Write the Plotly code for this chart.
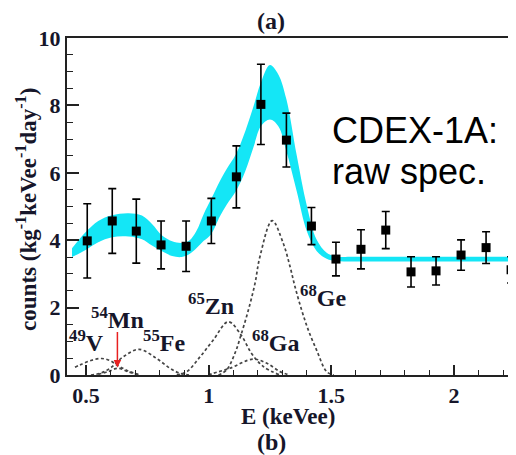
import plotly.graph_objects as go

# ---- measured spectrum (points with error bars)
energy = [0.505, 0.607, 0.705, 0.806, 0.908, 1.011, 1.113, 1.213, 1.317, 1.419, 1.519, 1.621, 1.722, 1.825, 1.927, 2.029, 2.131, 2.233]
counts = [3.98, 4.57, 4.27, 3.86, 3.82, 4.57, 5.88, 8.03, 6.97, 4.42, 3.44, 3.73, 4.30, 3.06, 3.09, 3.56, 3.78, 3.12]
errors = [1.10, 0.96, 0.95, 0.71, 0.75, 0.67, 0.92, 1.19, 0.80, 0.55, 0.50, 0.58, 0.55, 0.45, 0.42, 0.45, 0.47, 0.39]

# ---- fit band (upper / lower edges)
band_x = [0.443, 0.50, 0.55, 0.606, 0.674, 0.728, 0.769, 0.81, 0.851, 0.89, 0.92, 0.95, 0.98, 1.01, 1.046, 1.074, 1.111, 1.15, 1.182, 1.213, 1.25, 1.284, 1.317, 1.359, 1.40, 1.44, 1.481, 1.52, 1.60, 2.26]
band_hi = [3.76, 4.25, 4.57, 4.74, 4.80, 4.73, 4.48, 4.14, 3.97, 3.92, 3.98, 4.27, 4.78, 5.22, 5.76, 6.12, 6.55, 7.25, 7.95, 8.68, 9.20, 8.92, 8.18, 6.52, 5.03, 4.02, 3.63, 3.52, 3.51, 3.51]
band_lo = [3.50, 3.72, 3.94, 4.09, 4.11, 4.03, 3.84, 3.67, 3.53, 3.50, 3.58, 3.76, 3.98, 4.18, 4.71, 5.06, 5.45, 6.06, 6.74, 7.38, 7.58, 7.38, 6.64, 5.45, 4.27, 3.68, 3.45, 3.38, 3.37, 3.37]

# ---- individual components (dashed)
v_x = [0.455, 0.476, 0.52, 0.564, 0.60, 0.625, 0.655, 0.679, 0.72]
v_y = [0.23, 0.30, 0.43, 0.49, 0.42, 0.30, 0.18, 0.10, 0.0]
mn_x = [0.55, 0.59, 0.63, 0.67, 0.71]
mn_y = [0.02, 0.10, 0.20, 0.10, 0.02]
fe_x = [0.52, 0.557, 0.598, 0.652, 0.716, 0.788, 0.842, 0.883, 0.92]
fe_y = [0.0, 0.05, 0.20, 0.54, 0.76, 0.49, 0.20, 0.05, 0.0]
zn_x = [0.87, 0.911, 0.965, 1.019, 1.08, 1.132, 1.175, 1.223, 1.29]
zn_y = [0.0, 0.10, 0.54, 1.04, 1.58, 1.19, 0.64, 0.25, 0.0]
ga_x = [1.0, 1.019, 1.087, 1.18, 1.237, 1.291, 1.33]
ga_y = [0.0, 0.05, 0.20, 0.47, 0.35, 0.10, 0.0]
ge_x = [1.04, 1.073, 1.107, 1.132, 1.162, 1.189, 1.209, 1.259, 1.304, 1.332, 1.352, 1.379, 1.406, 1.44, 1.481, 1.51]
ge_y = [0.0, 0.15, 0.64, 1.19, 1.93, 2.72, 3.51, 4.58, 3.91, 3.21, 2.62, 1.93, 1.34, 0.74, 0.10, 0.0]

# ---- labels
label_text = ["<sup>49</sup>V", "<sup>54</sup>Mn", "<sup>55</sup>Fe", "<sup>65</sup>Zn", "<sup>68</sup>Ga", "<sup>68</sup>Ge"]
label_x = [0.504, 0.628, 0.818, 1.008, 1.273, 1.466]
label_y = [1.00, 1.69, 1.00, 2.11, 1.00, 2.35]

INK = "#16162a"
AX = "#222222"
CYAN = "#14e6f6"
SERIF = "Liberation Serif"

fig = go.Figure()

fig.add_trace(go.Scatter(x=band_x, y=band_lo, mode="lines", line=dict(width=0, shape="spline", color=CYAN),
                         showlegend=False, hoverinfo="skip"))
fig.add_trace(go.Scatter(x=band_x, y=band_hi, mode="lines", line=dict(width=0, shape="spline", color=CYAN),
                         fill="tonexty", fillcolor=CYAN, showlegend=False, hoverinfo="skip"))

for cx, cy in [(v_x, v_y), (mn_x, mn_y), (fe_x, fe_y), (zn_x, zn_y), (ga_x, ga_y), (ge_x, ge_y)]:
    fig.add_trace(go.Scatter(x=cx, y=cy, mode="lines",
                             line=dict(color="#444444", width=1.7, dash="3px,2.5px", shape="spline"),
                             showlegend=False, hoverinfo="skip"))

fig.add_trace(go.Scatter(x=energy, y=counts, mode="markers",
                         marker=dict(symbol="square", size=9, color="black"),
                         error_y=dict(type="data", array=errors, color="black", thickness=1.6, width=4),
                         showlegend=False))

bold = dict(family=SERIF, size=24, color=INK, weight="bold")
tickbold = dict(family=SERIF, size=22, color=INK, weight="bold")
annotations = []
for t, lx, ly in zip(label_text, label_x, label_y):
    annotations.append(dict(x=lx, y=ly, xref="x", yref="y", text=t, showarrow=False,
                            xanchor="center", yanchor="middle", font=bold))

annotations.append(dict(x=0.628, y=0.22, ax=0.628, ay=1.32, xref="x", yref="y", axref="x", ayref="y",
                        text="", showarrow=True, arrowhead=2, arrowsize=1, arrowwidth=1.5,
                        arrowcolor="#e82020"))

annotations.append(dict(x=1.495, y=7.27, xref="x", yref="y", text="CDEX-1A:", showarrow=False,
                        xanchor="left", yanchor="middle",
                        font=dict(family="Liberation Sans", size=36, color="black")))
annotations.append(dict(x=1.495, y=6.05, xref="x", yref="y", text="raw spec.", showarrow=False,
                        xanchor="left", yanchor="middle",
                        font=dict(family="Liberation Sans", size=36, color="black")))

annotations.append(dict(x=-0.089, y=0.49, xref="paper", yref="paper", textangle=-90, showarrow=False,
                        xanchor="center", yanchor="middle",
                        text="counts (kg<sup>-1</sup>keVee<sup>-1</sup>day<sup>-1</sup>)",
                        font=dict(family=SERIF, size=23, color=INK, weight="bold")))
annotations.append(dict(x=0.493, y=-0.122, xref="paper", yref="paper", showarrow=False,
                        xanchor="center", yanchor="middle", text="E (keVee)",
                        font=dict(family=SERIF, size=23, color=INK, weight="bold")))
annotations.append(dict(x=0.456, y=-0.198, xref="paper", yref="paper", showarrow=False,
                        xanchor="center", yanchor="middle", text="(b)", font=bold))
annotations.append(dict(x=0.454, y=1.05, xref="paper", yref="paper", showarrow=False,
                        xanchor="center", yanchor="middle", text="(a)", font=bold))

# page body has an 8px default margin, so the figure is 8px smaller than the window
fig.update_layout(
    width=508, height=447,
    margin=dict(l=59, r=0, t=30, b=80),
    paper_bgcolor="white", plot_bgcolor="white",
    annotations=annotations,
    xaxis=dict(range=[0.4225, 2.253], showline=True, linewidth=2, linecolor=AX, mirror=True,
               ticks="inside", tick0=0.5, dtick=0.5, ticklen=10, tickwidth=1.5, tickcolor=AX,
               minor=dict(dtick=0.1, tick0=0.5, ticks="inside", ticklen=5, tickwidth=1.2, tickcolor=AX),
               showgrid=False, zeroline=False, tickfont=tickbold),
    yaxis=dict(range=[0, 10], showline=True, linewidth=2, linecolor=AX, mirror=False,
               ticks="inside", tick0=0, dtick=2, ticklen=12, tickwidth=1.5, tickcolor=AX,
               minor=dict(dtick=0.5, ticks="inside", ticklen=6, tickwidth=1.2, tickcolor=AX),
               showgrid=False, zeroline=False, tickfont=tickbold),
)

fig.write_html("out.html")
